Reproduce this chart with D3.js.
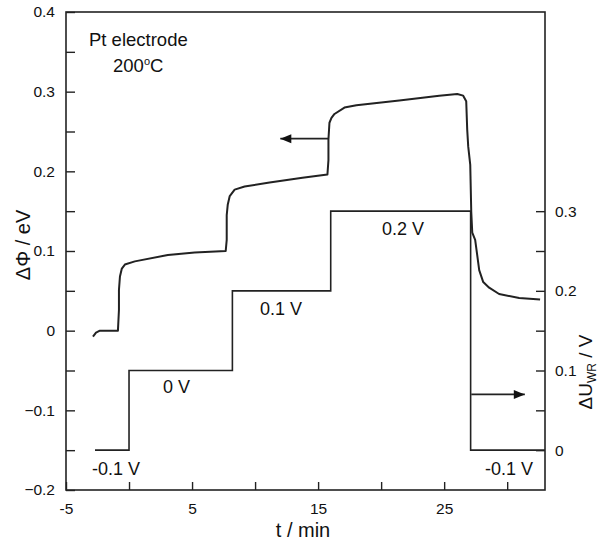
<!DOCTYPE html>
<html><head><meta charset="utf-8">
<script src="https://cdn.jsdelivr.net/npm/d3@7"></script>
<style>
body{margin:0;background:#fff;}
text{font-family:"Liberation Sans",Arial,Helvetica,sans-serif;fill:#111;}
</style></head>
<body><svg id="c" width="601" height="545"></svg>
<script>
// Work function change (left axis, eV)
const tPhi = [-2.86,-2.62,-2.31,-0.88,-0.80,-0.80,-0.72,-0.57,-0.33,0.46,3.08,5.21,7.67,7.75,7.75,7.83,7.99,8.38,9.17,11.15,13.76,15.74,15.82,15.82,15.90,16.06,16.30,17.09,18.04,21.44,24.61,26.04,26.51,26.75,26.83,26.91,27.07,27.15,27.23,27.46,27.62,27.78,28.10,28.57,29.36,30.95,32.61];
const phi  = [-0.0075,-0.0025,0,0,0.026,0.051,0.068,0.078,0.083,0.087,0.095,0.098,0.100,0.114,0.145,0.158,0.169,0.177,0.181,0.186,0.192,0.196,0.214,0.240,0.261,0.267,0.272,0.280,0.283,0.289,0.295,0.297,0.295,0.288,0.252,0.231,0.208,0.149,0.123,0.114,0.095,0.076,0.061,0.054,0.046,0.041,0.039];
// Applied potential steps (right axis, V)
const tStep = [-2.7, 0, 8.2, 16.0, 27.1, 33];
const uStep = [0, 0.1, 0.2, 0.3, 0, 0];
const stepLabels = ["-0.1 V","0 V","0.1 V","0.2 V","-0.1 V"];
const leftTicks = [-0.2,-0.15,-0.1,-0.05,0,0.05,0.1,0.15,0.2,0.25,0.3,0.35,0.4];
const leftLabels = [-0.2,-0.1,0,0.1,0.2,0.3,0.4];
const bottomTicks = [-5,0,5,10,15,20,25,30];
const bottomLabels = [-5,5,15,25];
const rightTicks = [0,0.05,0.1,0.15,0.2,0.25,0.3];
const rightLabels = [0,0.1,0.2,0.3];

const svg = d3.select("#c");
const L=66,R=545,T=12,B=490;
const x = d3.scaleLinear().domain([-5,33]).range([L,R]);
const yL = d3.scaleLinear().domain([-0.2,0.4]).range([B,T]);
const yR = d3.scaleLinear().domain([-0.05,0.55]).range([B,T]);

const fmt = v => (Math.abs(v)<1e-9 ? "0" : d3.format(".1f")(v));
const isIn = (arr,v)=>arr.some(a=>Math.abs(a-v)<1e-9);

const ax = svg.append("g").attr("transform",`translate(0,${B})`)
  .call(d3.axisBottom(x).tickValues(bottomTicks).tickSize(-8).tickPadding(13)
    .tickFormat(v=>isIn(bottomLabels,v)?String(v):""));
const ayl = svg.append("g").attr("transform",`translate(${L},0)`)
  .call(d3.axisLeft(yL).tickValues(leftTicks).tickSize(-9).tickPadding(11)
    .tickFormat(v=>isIn(leftLabels,v)?fmt(v):""));
const ayr = svg.append("g").attr("transform",`translate(${R},0)`)
  .call(d3.axisRight(yR).tickValues(rightTicks).tickSize(-9).tickPadding(10)
    .tickFormat(v=>isIn(rightLabels,v)?fmt(v):""));
[ax,ayl,ayr].forEach(g=>{
  g.select(".domain").remove();
  g.selectAll("line").attr("stroke","#222").attr("stroke-width",1.4);
  g.selectAll("text").style("font-size","15.5px").attr("fill","#111");
});
// frame
svg.append("rect").attr("x",L).attr("y",T).attr("width",R-L).attr("height",B-T)
  .attr("fill","none").attr("stroke","#222").attr("stroke-width",1.6);

// step line
const stepData = tStep.map((t,i)=>[t,uStep[i]]);
svg.append("path").datum(stepData)
  .attr("d",d3.line().x(d=>x(d[0])).y(d=>yR(d[1])).curve(d3.curveStepAfter))
  .attr("fill","none").attr("stroke","#222").attr("stroke-width",1.6);

// work function curve
const phiData = tPhi.map((t,i)=>[t,phi[i]]);
svg.append("path").datum(phiData)
  .attr("d",d3.line().x(d=>x(d[0])).y(d=>yL(d[1])).curve(d3.curveLinear))
  .attr("fill","none").attr("stroke","#222").attr("stroke-width",2).attr("stroke-linejoin","round");

// arrows
function arrow(x1,y1,x2,y2){
  svg.append("line").attr("x1",x1).attr("y1",y1).attr("x2",x2).attr("y2",y2)
    .attr("stroke","#222").attr("stroke-width",1.6);
  const dir = Math.sign(x2-x1);
  svg.append("path").attr("d",`M${x2},${y2} L${x2-dir*11},${y2-4.5} L${x2-dir*11},${y2+4.5} Z`).attr("fill","#111");
}
arrow(x(15.82), yL(0.241), x(12.0), yL(0.241));
arrow(x(27.15), yR(0.07), x(31.4), yR(0.07));

// step labels
const lab = (txt,px,py,fs)=>svg.append("text").attr("x",px).attr("y",py)
  .style("font-size",(fs||18)+"px").text(txt);
lab(stepLabels[0], 92, 475);
lab(stepLabels[1], 163, 393);
lab(stepLabels[2], 260, 315);
lab(stepLabels[3], 382, 235);
lab(stepLabels[4], 485, 475);

lab("Pt electrode", 89, 46, 18.5);
svg.append("text").attr("x",113).attr("y",72).style("font-size","18.5px")
  .html('200<tspan dy="-7" font-size="11">o</tspan><tspan dy="7">C</tspan>');

// axis titles
svg.append("text").attr("transform","translate(30,245) rotate(-90)").attr("text-anchor","middle")
  .style("font-size","20px").text("ΔΦ / eV");
svg.append("text").attr("x",303).attr("y",537).attr("text-anchor","middle")
  .style("font-size","20px").text("t / min");
svg.append("text").attr("transform","translate(592,372) rotate(-90)").attr("text-anchor","middle")
  .style("font-size","19px")
  .html('ΔU<tspan dy="4" font-size="12">WR</tspan><tspan dy="-4"> / V</tspan>');
</script></body></html>
